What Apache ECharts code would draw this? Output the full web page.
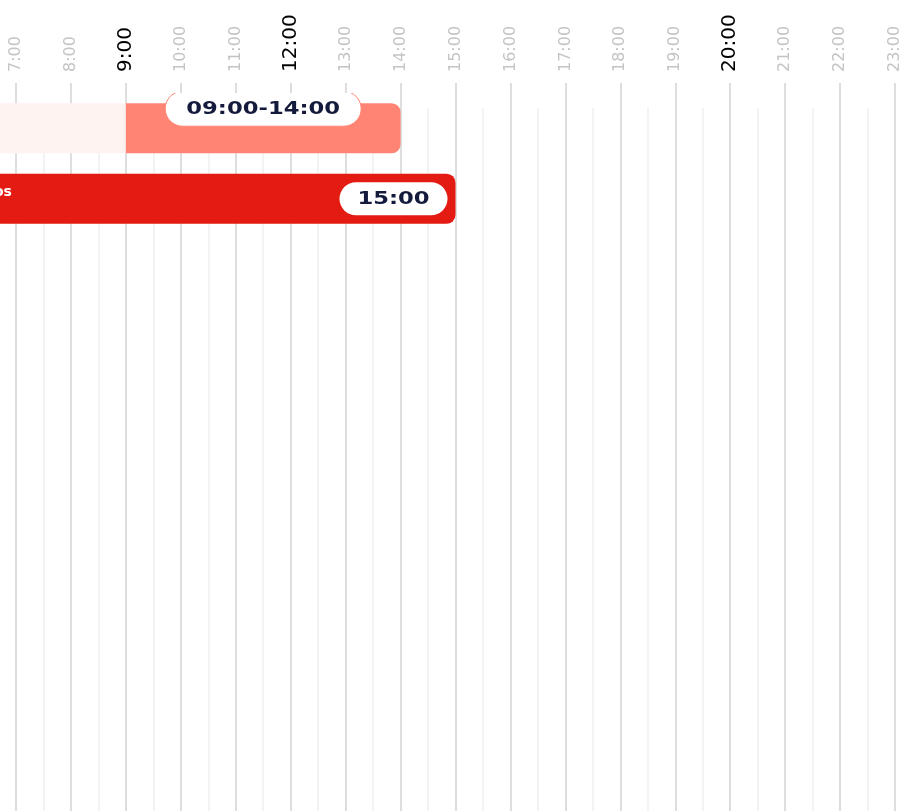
<!DOCTYPE html>
<html>
<head>
<meta charset="utf-8">
<script src="https://cdn.jsdelivr.net/npm/echarts@6/dist/echarts.min.js"></script>
<style>
  html, body { margin: 0; padding: 0; background: #fff; overflow: hidden; width: 912px; height: 811px; }
  /* the axis runs 6:00..24:00, 6:00 and 24:00 fall just outside the window */
  #chart { position: absolute; left: -39px; top: 0; width: 989px; height: 811px; }
</style>
</head>
<body>
<div id="chart"></div>
<script>
// tick labels
var hourLabels = ['7:00', '8:00', '9:00', '10:00', '11:00', '12:00', '13:00', '14:00', '15:00',
                  '16:00', '17:00', '18:00', '19:00', '20:00', '21:00', '22:00', '23:00'];
var boldLabels = ['9:00', '12:00', '20:00'];

// rows
var rowNames = ['', 'Horarios'];
// faded part before the window (row 0 only)
var fadedRows = [0];
var fadedStart = [6];
var fadedEnd = [9];
// main spans
var spanRows = [0, 1];
var spanStart = [9, 6];
var spanEnd = [14, 15];
var spanLabels = ['09:00-14:00', '15:00'];

var axisMin = 6, axisMax = 24;

var spanColors = ['#ff8473', '#e31b12'];
var navy = '#141a3c';

function xAx(gridIndex, extra) {
    var a = {
        type: 'value', gridIndex: gridIndex, min: axisMin, max: axisMax, interval: 1,
        axisLine: { show: false }, axisTick: { show: false },
        axisLabel: { show: false }, splitLine: { show: false }
    };
    for (var k in extra) a[k] = extra[k];
    return a;
}

var fadedData = fadedRows.map(function (r, i) { return [r, fadedStart[i], fadedEnd[i]]; });
var spanData = spanRows.map(function (r, i) { return [r, spanStart[i], spanEnd[i]]; });

var option = {
    backgroundColor: '#ffffff',
    animation: false,
    grid: [
        { left: 0, right: 0, top: 83, bottom: 0 },
        { left: 0, right: 0, top: 108, bottom: 0 },
        { left: 0, right: 0, top: 93, height: 141 }
    ],
    xAxis: [
        xAx(0, {
            position: 'top',
            splitLine: { show: true, lineStyle: { color: '#d3d3d3', width: 1.5 } },
            axisLabel: {
                show: true, rotate: 90, margin: 11,
                formatter: function (v) {
                    var s = v + ':00';
                    if (hourLabels.indexOf(s) < 0) return '';
                    return boldLabels.indexOf(s) >= 0 ? '{b|' + s + '}' : '{n|' + s + '}';
                },
                rich: {
                    n: { fontFamily: 'DejaVu Sans', fontSize: 16, color: '#c4c4c4' },
                    b: { fontFamily: 'DejaVu Sans', fontSize: 20, color: '#000000' }
                }
            }
        }),
        xAx(1, {
            minorTick: { show: false, splitNumber: 2 },
            minorSplitLine: { show: true, lineStyle: { color: '#efefef', width: 1.5 } }
        }),
        xAx(2, {})
    ],
    yAxis: [
        { type: 'value', gridIndex: 0, show: false },
        { type: 'value', gridIndex: 1, show: false },
        { type: 'category', gridIndex: 2, data: [0, 1], inverse: true, show: false }
    ],
    series: [
        {
            type: 'custom', xAxisIndex: 2, yAxisIndex: 2, clip: true,
            data: fadedData,
            renderItem: function (params, api) {
                var row = api.value(0);
                var p0 = api.coord([api.value(1), row]);
                var p1 = api.coord([api.value(2), row]);
                var h = api.size([0, 1])[1] * 0.71;
                return {
                    type: 'rect',
                    shape: { x: p0[0], y: p0[1] - h / 2, width: p1[0] - p0[0], height: h },
                    style: { fill: '#fff3f1' }
                };
            }
        },
        {
            type: 'custom', xAxisIndex: 2, yAxisIndex: 2, clip: true,
            data: spanData,
            renderItem: function (params, api) {
                var i = params.dataIndex;
                var row = api.value(0);
                var p0 = api.coord([api.value(1), row]);
                var p1 = api.coord([api.value(2), row]);
                var h = api.size([0, 1])[1] * 0.71;
                var top = p0[1] - h / 2;
                var children = [{
                    type: 'rect',
                    shape: { x: p0[0], y: top, width: p1[0] - p0[0], height: h, r: [0, 9, 9, 0] },
                    style: { fill: spanColors[i] }
                }];
                var pw, ph, cx, cy, stroke;
                if (fadedRows.indexOf(row) >= 0) {
                    pw = 196; ph = 35;
                    cx = (p0[0] + p1[0]) / 2; cy = top + 5.5;
                    stroke = spanColors[i];
                } else {
                    pw = 108; ph = 33;
                    cx = p1[0] - 8 - pw / 2; cy = p0[1];
                    stroke = null;
                }
                children.push({
                    type: 'rect',
                    shape: { x: cx - pw / 2, y: cy - ph / 2, width: pw, height: ph, r: ph / 2 },
                    style: { fill: '#ffffff', stroke: stroke, lineWidth: 1 }
                });
                children.push({
                    type: 'text', x: cx, y: cy + 1, scaleX: 1.26,
                    style: {
                        text: spanLabels[i], fill: navy,
                        font: 'bold 18px "DejaVu Sans"', align: 'center', verticalAlign: 'middle'
                    }
                });
                if (rowNames[row]) {
                    children.push({
                        type: 'text', x: api.coord([7, row])[0] - 4, y: p0[1] - 6,
                        style: {
                            text: rowNames[row], fill: '#ffffff',
                            font: 'bold 14px "DejaVu Sans"', align: 'right', verticalAlign: 'middle'
                        }
                    });
                }
                return { type: 'group', children: children };
            }
        }
    ]
};

var chart = echarts.init(document.getElementById('chart'));
chart.setOption(option);
</script>
</body>
</html>
